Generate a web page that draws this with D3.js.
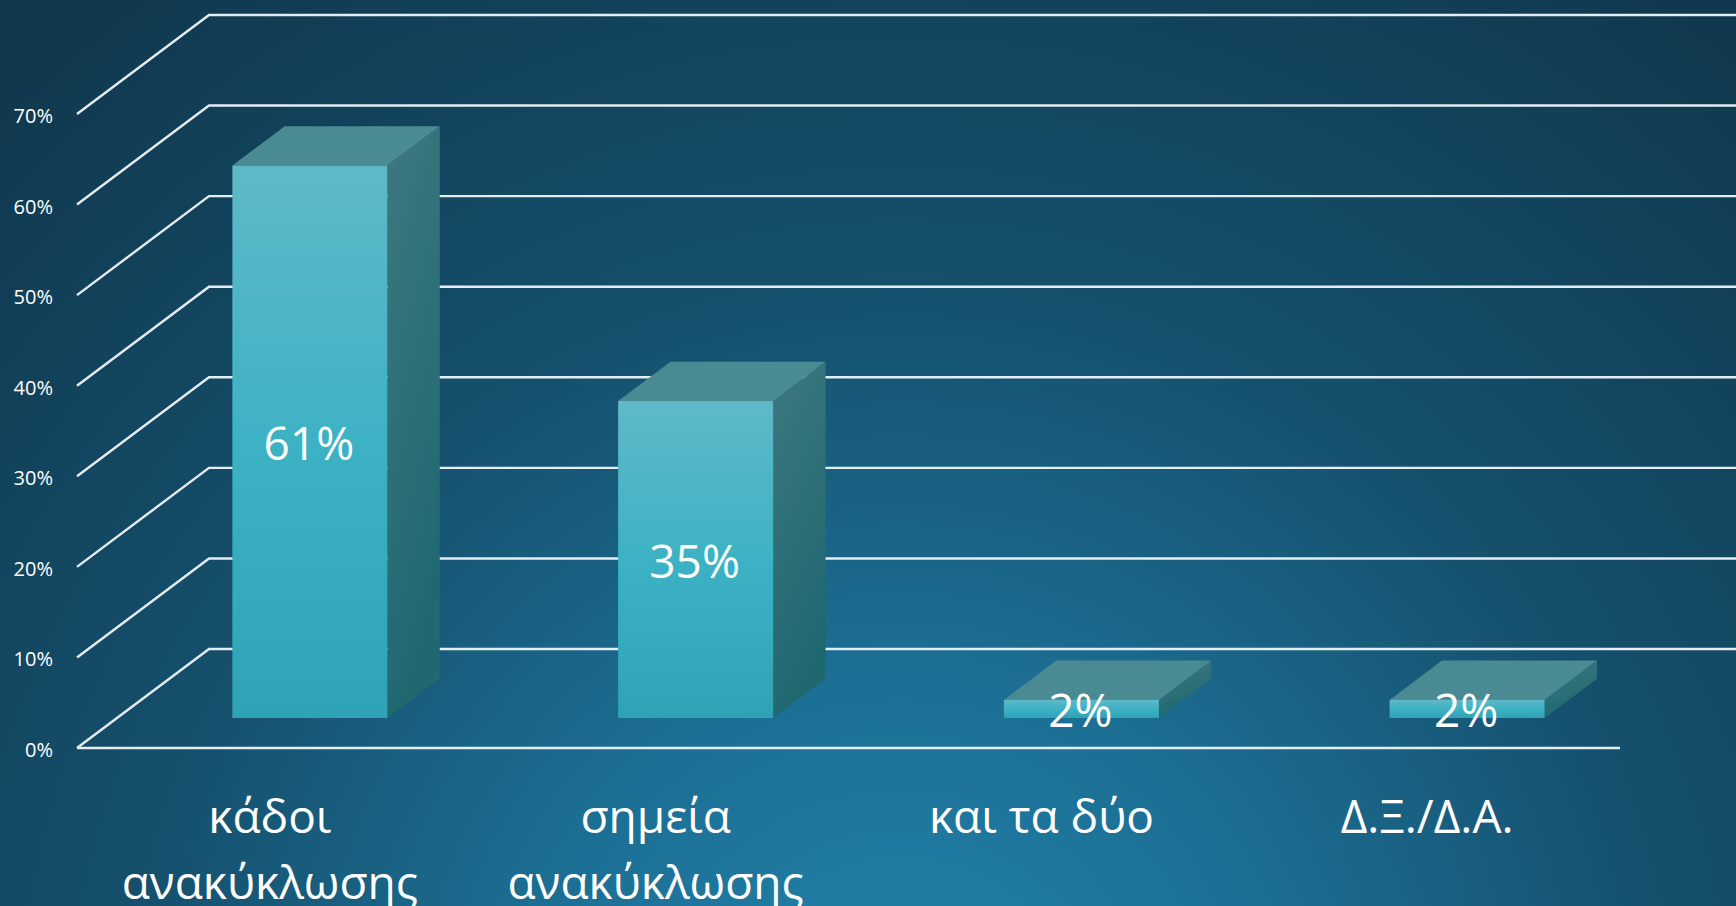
<!DOCTYPE html>
<html>
<head>
<meta charset="utf-8">
<script src="https://cdn.jsdelivr.net/npm/d3@7"></script>
<style>
  html, body { margin: 0; padding: 0; background: #123f57; overflow: hidden; }
  svg { display: block; }
  text { font-family: "Open Sans", "Noto Sans", sans-serif; fill: #ffffff; }
</style>
</head>
<body>
<svg id="chart" width="1736" height="906"></svg>
<script>
// ---- data ----
const categories = [["κάδοι", "ανακύκλωσης"], ["σημεία", "ανακύκλωσης"], ["και τα δύο"], ["Δ.Ξ./Δ.Α."]];
const values = [61, 35, 2, 2];
const valueLabels = ["61%", "35%", "2%", "2%"];
const tickValues = [0, 10, 20, 30, 40, 50, 60, 70];
const tickLabels = ["0%", "10%", "20%", "30%", "40%", "50%", "60%", "70%"];

const W = 1736, H = 906;
const svg = d3.select("#chart");

// ---- background ----
const defs = svg.append("defs");
const bg = defs.append("radialGradient").attr("id", "bg")
  .attr("gradientUnits", "userSpaceOnUse")
  .attr("cx", 900).attr("cy", 1050).attr("r", 1300);
bg.append("stop").attr("offset", 0).attr("stop-color", "#2384ad");
bg.append("stop").attr("offset", 0.3).attr("stop-color", "#1c6e93");
bg.append("stop").attr("offset", 0.6).attr("stop-color", "#154f6c");
bg.append("stop").attr("offset", 1).attr("stop-color", "#10394f");
svg.append("rect").attr("width", W).attr("height", H).attr("fill", "url(#bg)");

const gFront = defs.append("linearGradient").attr("id", "front").attr("x1", 0).attr("y1", 0).attr("x2", 0).attr("y2", 1);
gFront.append("stop").attr("offset", 0).attr("stop-color", "#5fb8c7");
gFront.append("stop").attr("offset", 0.5).attr("stop-color", "#3db2c4");
gFront.append("stop").attr("offset", 1).attr("stop-color", "#2ea3b5");
const gSide = defs.append("linearGradient").attr("id", "side").attr("x1", 0).attr("y1", 0).attr("x2", 0.3).attr("y2", 1);
gSide.append("stop").attr("offset", 0).attr("stop-color", "#3e7880");
gSide.append("stop").attr("offset", 1).attr("stop-color", "#1f6870");

// ---- scales & projection ----
const x = d3.scaleBand().domain(d3.range(categories.length)).range([77, 1620]).paddingInner(0).paddingOuter(0);
const y = d3.scaleLinear().domain([0, 70]).range([748, 114]);
const DX = 132, DY = -99;           // full floor depth offset
const z0 = 0.303, z1 = 0.70;        // bar depth span
const barW = 155;
const P = (xv, v, z) => [xv + z * DX, y(v) + z * DY];
const pts = arr => arr.map(p => p.join(",")).join(" ");

// ---- gridlines (walls) ----
const grid = svg.append("g").attr("stroke", "#e4edf1").attr("stroke-width", 2.4).attr("fill", "none");
tickValues.forEach(v => {
  const a = P(x.range()[0], v, 0), b = P(x.range()[0], v, 1), c = P(x.range()[1], v, 1);
  grid.append("polyline").attr("points", pts([a, b, c]));
});
// floor front edge
grid.append("line")
  .attr("x1", x.range()[0]).attr("x2", x.range()[1])
  .attr("y1", y(0)).attr("y2", y(0));

// ---- axis labels ----
svg.append("g").selectAll("text").data(tickValues).join("text")
  .attr("x", 53).attr("y", d => y(d) + 9)
  .attr("text-anchor", "end").attr("font-size", 20)
  .text((d, i) => tickLabels[i]);

// ---- bars ----
const bars = svg.append("g");
values.forEach((v, i) => {
  const bx = x(i) + (x.bandwidth() - barW) / 2;
  const g = bars.append("g");
  g.append("polygon").attr("fill", "url(#side)")
    .attr("points", pts([P(bx + barW, v, z0), P(bx + barW, v, z1), P(bx + barW, 0, z1), P(bx + barW, 0, z0)]));
  g.append("polygon").attr("fill", "#4a8b93")
    .attr("points", pts([P(bx, v, z0), P(bx + barW, v, z0), P(bx + barW, v, z1), P(bx, v, z1)]));
  const f0 = P(bx, v, z0), f1 = P(bx + barW, 0, z0);
  g.append("rect").attr("fill", "url(#front)")
    .attr("x", f0[0]).attr("y", f0[1]).attr("width", f1[0] - f0[0]).attr("height", f1[1] - f0[1]);
  g.append("text")
    .attr("x", (f0[0] + f1[0]) / 2 - 1)
    .attr("y", (f0[1] + f1[1]) / 2 + 18)
    .attr("text-anchor", "middle").attr("font-size", 46)
    .text(valueLabels[i]);
});

// ---- category labels ----
const catG = svg.append("g");
categories.forEach((lines, i) => {
  const cx = x(i) + x.bandwidth() / 2;
  const t = catG.append("text")
    .attr("x", cx).attr("y", 833)
    .attr("text-anchor", "middle").attr("font-size", 46);
  lines.forEach((ln, j) => {
    t.append("tspan").attr("x", cx).attr("dy", j === 0 ? 0 : 66).text(ln);
  });
});
</script>
</body>
</html>
